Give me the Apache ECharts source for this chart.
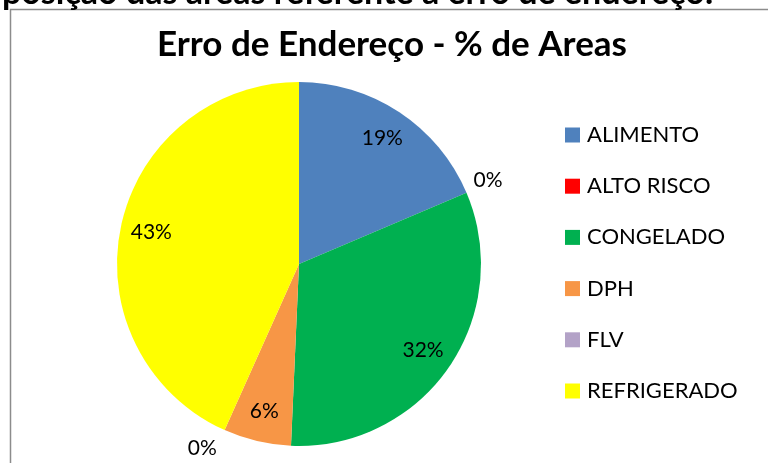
<!DOCTYPE html>
<html>
<head>
<meta charset="utf-8">
<script src="https://cdn.jsdelivr.net/npm/echarts@6/dist/echarts.min.js"></script>
<style>html,body{margin:0;padding:0;background:#fff}#c{width:768px;height:463px}</style>
</head>
<body>
<div id="c"></div>
<script>
const categories = ['ALIMENTO', 'ALTO RISCO', 'CONGELADO', 'DPH', 'FLV', 'REFRIGERADO'];
const values = [18.6, 0, 32.1, 6.0, 0, 43.3];
const colors = ['#4F81BD', '#FF0000', '#00B050', '#F79646', '#B3A2C7', '#FFFF00'];
const titleText = 'Erro de Endereço - % de Areas';
const headerText = 'posição das áreas referente a erro de endereço:';

const FONT = 'Lato, "Open Sans", sans-serif';
const center = [299, 264];
const R = 182;
const pct = p => Math.round(p.percent) + '%';
const zeroNudge = { 1: { dx: -9, dy: -8 }, 4: { dx: 2, dy: 7 } };

const mainData = categories.map((n, i) => ({
  name: n, value: values[i],
  itemStyle: { color: colors[i] },
  label: { show: values[i] === 0 }
}));
const labelData = categories.map((n, i) => ({
  name: n, value: values[i],
  itemStyle: { color: 'rgba(0,0,0,0)' },
  label: { show: values[i] !== 0 }
}));

const chart = echarts.init(document.getElementById('c'), null, { renderer: 'canvas' });
chart.setOption({
  animation: false,
  backgroundColor: '#fff',
  title: {
    text: titleText, left: 387, textAlign: 'center', top: 22,
    textStyle: { fontFamily: FONT, fontWeight: 'bold', fontSize: 35, color: '#000' }
  },
  legend: {
    orient: 'vertical', left: 565, top: 124, padding: 0,
    icon: 'rect', itemWidth: 15, itemHeight: 15, itemGap: 29.2,
    selectedMode: false,
    textStyle: { fontFamily: FONT, fontSize: 22, color: '#000', lineHeight: 21, padding: [0, 0, 0, 2] },
    data: categories.map((n, i) => ({ name: n, itemStyle: { color: colors[i] } }))
  },
  graphic: [
    { type: 'rect', shape: { x: 10.5, y: 9.5, width: 900, height: 600 },
      style: { fill: 'none', stroke: '#8c8c8c', lineWidth: 1.5 }, silent: true },
    { type: 'text', x: 2, y: 10,
      style: { text: headerText, fill: '#000', font: 'bold 34px ' + FONT, verticalAlign: 'bottom' } }
  ],
  series: [
    {
      type: 'pie', center: center, radius: [0, R], startAngle: 90, clockwise: true,
      avoidLabelOverlap: false, silent: true,
      itemStyle: { borderWidth: 0 },
      label: { position: 'outside', formatter: pct, fontFamily: FONT, fontSize: 21, color: '#000' },
      labelLine: { show: false, length: 12, length2: 0 },
      labelLayout: p => zeroNudge[p.dataIndex] || {},
      data: mainData
    },
    {
      type: 'pie', center: center, radius: [114, R], startAngle: 90, clockwise: true,
      avoidLabelOverlap: false, silent: true,
      itemStyle: { borderWidth: 0 },
      label: { position: 'inside', formatter: pct, fontFamily: FONT, fontSize: 21, color: '#000' },
      labelLine: { show: false },
      data: labelData
    }
  ]
});
</script>
</body>
</html>
